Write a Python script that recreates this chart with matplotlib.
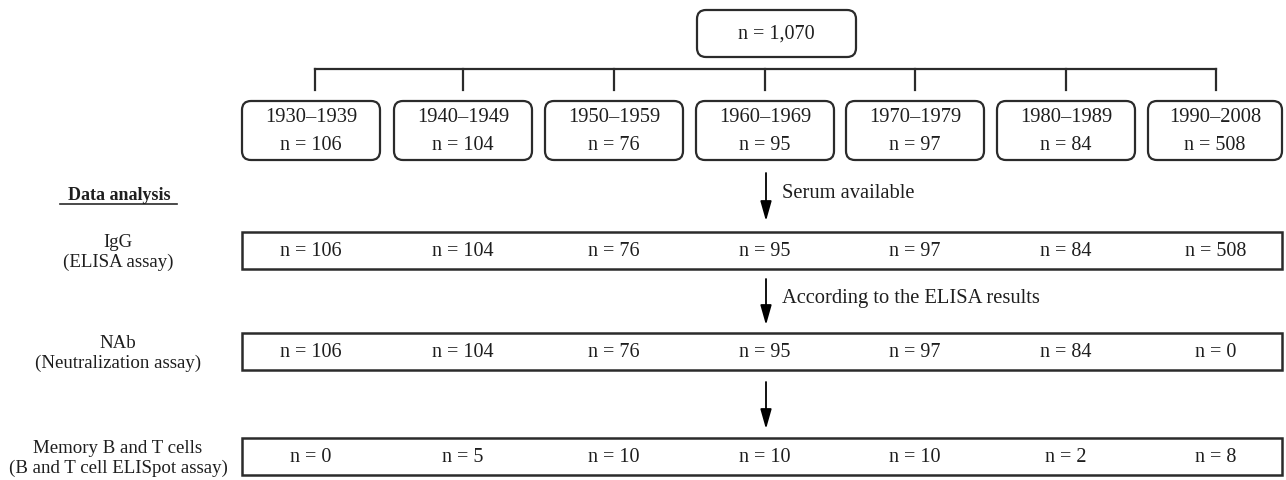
"""
Flowchart of serum samples by birth decade and the assays run on them.
"""
import matplotlib
matplotlib.use("Agg")
import matplotlib.pyplot as plt
from matplotlib.patches import FancyBboxPatch, Rectangle

# Data
total_label = "n = 1,070"
decades = ["1930\u20131939", "1940\u20131949", "1950\u20131959", "1960\u20131969",
           "1970\u20131979", "1980\u20131989", "1990\u20132008"]
decade_n = [106, 104, 76, 95, 97, 84, 508]
igg_n = [106, 104, 76, 95, 97, 84, 508]
nab_n = [106, 104, 76, 95, 97, 84, 0]
memory_n = [0, 5, 10, 10, 10, 2, 8]
row_titles = ["IgG\n(ELISA assay)", "NAb\n(Neutralization assay)",
              "Memory B and T cells\n(B and T cell ELISpot assay)"]
arrow_labels = ["Serum available", "According to the ELISA results", ""]

plt.rcParams["font.family"] = ["Liberation Serif", "DejaVu Serif"]
LC = "#2b2b2b"
TC = "#1e1e1e"

fig = plt.figure(figsize=(12.86, 4.80), dpi=100)
ax = fig.add_axes([0, 0, 1, 1])
ax.set_xlim(0, 1286)
ax.set_ylim(480, 0)
ax.axis("off")

# top box
ax.add_patch(FancyBboxPatch((697, 10), 159, 47,
                            boxstyle="round,pad=0,rounding_size=9",
                            fc="white", ec=LC, lw=1.6))
ax.text(776, 34, total_label, ha="center", va="center", fontsize=14.5, color=TC)

# bracket
col_x = [311, 463, 614, 765, 915, 1066, 1216]
ax.plot([col_x[0] + 4, col_x[-1]], [69, 69], color=LC, lw=1.6)
for x in col_x:
    ax.plot([x + (4 if x == col_x[0] else 0)] * 2, [69, 90], color=LC, lw=1.6)

# decade boxes
box_w = 138
for i, x in enumerate(col_x):
    w = box_w if i < len(col_x) - 1 else 134
    left = x - box_w / 2 if i < len(col_x) - 1 else 1148
    ax.add_patch(FancyBboxPatch((left, 101), w, 59,
                                boxstyle="round,pad=0,rounding_size=9",
                                fc="white", ec=LC, lw=1.6))
    cx = left + w / 2
    ax.text(cx, 118, decades[i], ha="center", va="center", fontsize=14.8, color=TC)
    ax.text(cx, 145, f"n = {decade_n[i]}", ha="center", va="center",
            fontsize=14.5, color=TC)

# data analysis heading
ax.text(119, 195, "Data analysis", ha="center", va="center", fontsize=13,
        fontweight="bold", color=TC)
ax.plot([60, 177], [204, 204], color=LC, lw=1.2)

# rows of assay counts
rows = [igg_n, nab_n, memory_n]
row_top = [232, 333, 438]
row_h = 37
arrow_y = [(173, 221), (279, 325), (382, 429)]
for r, vals in enumerate(rows):
    top = row_top[r]
    ax.add_patch(Rectangle((242, top), 1040, row_h, fc="white", ec=LC, lw=1.8))
    for x, v in zip(col_x, vals):
        ax.text(x, top + row_h / 2 + 1, f"n = {v}", ha="center", va="center",
                fontsize=14.5, color=TC)
    ax.text(118, top + row_h / 2 + 2, row_titles[r], ha="center", va="center",
            fontsize=13.6, color=TC, linespacing=1.2)
    y0, y1 = arrow_y[r]
    ax.annotate("", xy=(766, y1), xytext=(766, y0),
                arrowprops=dict(arrowstyle="-|>,head_length=0.6,head_width=0.17",
                                color="black", lw=1.3, shrinkA=0, shrinkB=0,
                                mutation_scale=20))
    if arrow_labels[r]:
        ax.text(782, (y0 + y1) / 2 - 3, arrow_labels[r], ha="left", va="center",
                fontsize=14.8, color=TC)

fig.savefig("out.png", dpi=100, facecolor="white")
